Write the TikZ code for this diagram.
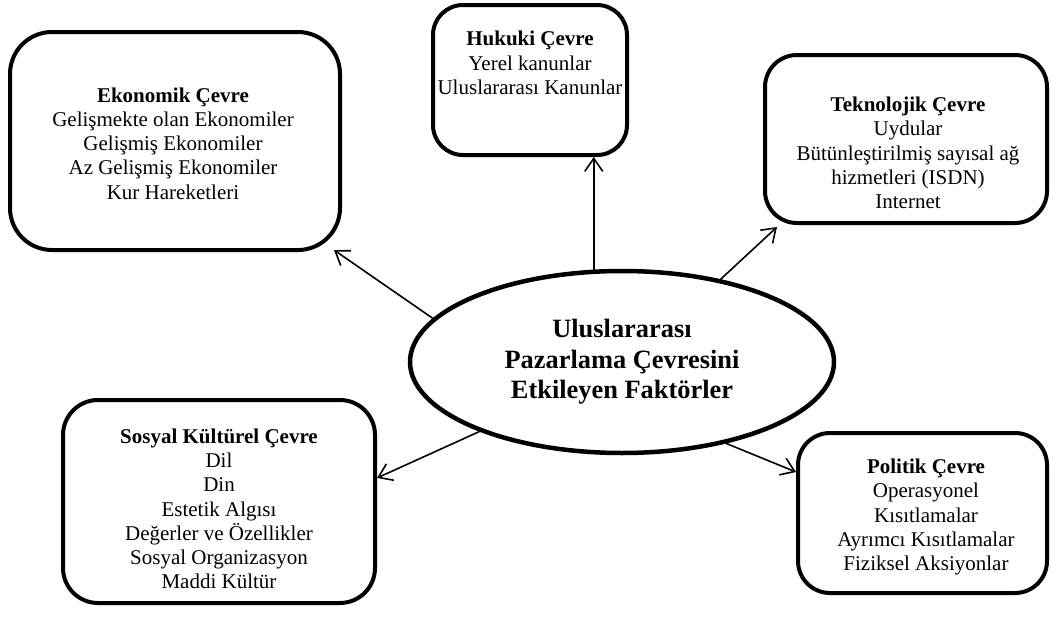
\documentclass[tikz,border=0pt]{standalone}
\usepackage{fontspec}
\setmainfont{Liberation Serif}
\usetikzlibrary{shapes.geometric,arrows.meta}
\begin{document}
\begin{tikzpicture}[x=1pt,y=-1pt,
  boxstyle/.style={draw=black,line width=4pt,rectangle,inner sep=0pt,fill=white},
  txt/.style={align=center,font=\fontsize{21}{24.2}\selectfont,inner sep=0pt},
  ellstyle/.style={draw=black,line width=4.5pt,ellipse,inner sep=0pt,fill=white,
    minimum width=424pt,minimum height=182pt,align=center,
    font=\fontsize{26.4}{30.4}\selectfont\bfseries},
  arr/.style={line width=1.6pt,-{Straight Barb[length=13pt,width=18pt]}}
]
\useasboundingbox (0,0) rectangle (1052,621);

% boxes
\node[boxstyle,minimum width=330pt,minimum height=218pt,rounded corners=42pt] (eko) at (175,141) {};
\node[boxstyle,minimum width=194pt,minimum height=150pt,rounded corners=30pt] (huk) at (530,80) {};
\node[boxstyle,minimum width=282pt,minimum height=168pt,rounded corners=32pt] (tek) at (906,139) {};
\node[boxstyle,minimum width=312pt,minimum height=203pt,rounded corners=35pt] (sos) at (219,501.5) {};
\node[boxstyle,minimum width=249pt,minimum height=160pt,rounded corners=32pt] (pol) at (922.5,513) {};

% texts
\node[txt] (ekot) at (173,143.5) {\textbf{Ekonomik Çevre}\\Gelişmekte olan Ekonomiler\\Gelişmiş Ekonomiler\\Az Gelişmiş Ekonomiler\\Kur Hareketleri};
\node[txt] (hukt) at (530,63) {\textbf{Hukuki Çevre}\\Yerel kanunlar\\Uluslararası Kanunlar};
\node[txt] (tekt) at (908,153) {\textbf{Teknolojik Çevre}\\Uydular\\Bütünleştirilmiş sayısal ağ\\hizmetleri (ISDN)\\Internet};
\node[txt] (sost) at (219,509) {\textbf{Sosyal Kültürel Çevre}\\Dil\\Din\\Estetik Algısı\\Değerler ve Özellikler\\Sosyal Organizasyon\\Maddi Kültür};
\node[txt] (polt) at (926,517) {\textbf{Politik Çevre}\\Operasyonel\\Kısıtlamalar\\Ayrımcı Kısıtlamalar\\Fiziksel Aksiyonlar};

% centre ellipse
\node[ellstyle] (ell) at (622,362) {Uluslararası\\Pazarlama Çevresini\\Etkileyen Faktörler};

% connectors
\draw[arr] (ell.167.5) -- ([xshift=-8pt,yshift=2pt]eko.south east);
\draw[arr] (ell.107.3) -- (ell.107.3 |- huk.south);
\draw[arr] (ell.40.6) -- ([xshift=14pt,yshift=-2pt]tek.south west);
\draw[arr] (ell.206.9) -- ([yshift=23.5pt]sos.east);
\draw[arr] (ell.322.3) -- ([yshift=41pt]pol.west);
\end{tikzpicture}
\end{document}
